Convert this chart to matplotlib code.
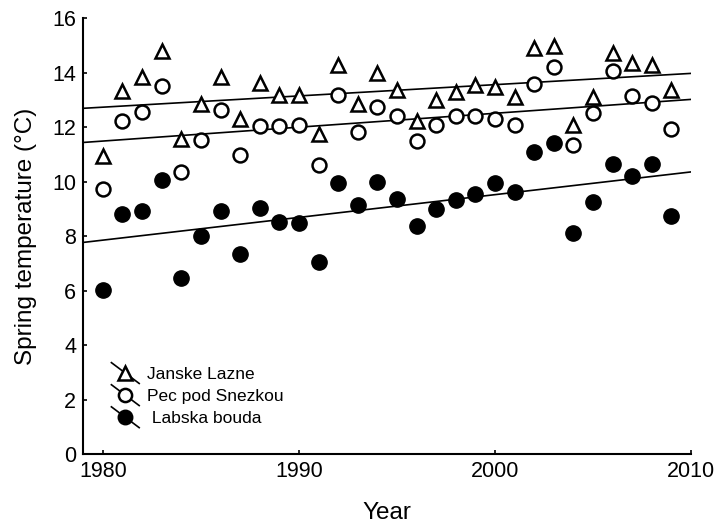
import numpy as np
import matplotlib
matplotlib.use("Agg")
import matplotlib.pyplot as plt
from matplotlib.lines import Line2D
from matplotlib.legend_handler import HandlerBase

years = list(range(1980, 2010))
janske_lazne = [10.93, 13.32, 13.85, 14.79, 11.57, 12.87, 13.85, 12.30, 13.62, 13.17,
                13.17, 11.75, 14.30, 12.87, 14.00, 13.36, 12.22, 12.99, 13.28, 13.54,
                13.48, 13.11, 14.91, 14.97, 12.07, 13.11, 14.73, 14.36, 14.30, 13.38]
pec_pod_snezkou = [9.75, 12.25, 12.55, 13.53, 10.36, 11.54, 12.65, 10.99, 12.03, 12.03,
                   12.07, 10.60, 13.17, 11.83, 12.73, 12.40, 11.48, 12.10, 12.40, 12.40,
                   12.32, 12.10, 13.60, 14.21, 11.36, 12.52, 14.08, 13.16, 12.89, 11.94]
labska_bouda = [6.03, 8.81, 8.91, 10.05, 6.46, 8.01, 8.91, 7.34, 9.03, 8.52,
                8.48, 7.05, 9.97, 9.13, 10.01, 9.38, 8.36, 9.00, 9.34, 9.55,
                9.97, 9.62, 11.08, 11.42, 8.11, 9.25, 10.65, 10.20, 10.65, 8.75]
series_names = ["Janske Lazne", "Pec pod Snezkou", " Labska bouda"]
x_ticks = [1980, 1990, 2000, 2010]
y_ticks = list(range(0, 17, 2))

plt.rcParams['font.family'] = ['Liberation Sans', 'DejaVu Sans']

fig = plt.figure(figsize=(7.21, 5.25), dpi=100)
ax = fig.add_axes([0.1155, 0.135, 0.843, 0.83])

x = np.array(years, dtype=float)
styles = [
    dict(marker='^', mfc='white', mec='black', ms=10, mew=1.8),
    dict(marker='o', mfc='white', mec='black', ms=10, mew=1.8),
    dict(marker='o', mfc='black', mec='black', ms=11, mew=1.0),
]
data = [janske_lazne, pec_pod_snezkou, labska_bouda]
xfit = np.array([1979.0, 2010.0])
handles = []
for vals, st, name in zip(data, styles, series_names):
    v = np.array(vals)
    k, b = np.polyfit(x, v, 1)
    ax.plot(xfit, k * xfit + b, color='black', lw=1.2, zorder=2)
    h, = ax.plot(x, v, ls='none', zorder=3, **st)
    handles.append(h)


class DiagHandler(HandlerBase):
    def create_artists(self, legend, orig_handle, xdescent, ydescent,
                       width, height, fontsize, trans):
        cx = width / 2 - xdescent
        cy = height / 2 - ydescent
        dx = 10.0
        dy = 7.5
        ln = Line2D([cx - dx, cx + dx], [cy + dy, cy - dy], color='black', lw=1.2,
                    transform=trans)
        mk = Line2D([cx], [cy], ls='none', marker=orig_handle.get_marker(),
                    mfc=orig_handle.get_markerfacecolor(), mec='black',
                    ms=orig_handle.get_markersize() * 0.95,
                    mew=orig_handle.get_markeredgewidth(), transform=trans)
        return [ln, mk]


leg = ax.legend(handles, series_names, handler_map={Line2D: DiagHandler()},
                loc='upper left', bbox_to_anchor=(0.052, 0.2), frameon=False,
                fontsize=12.5, handlelength=1.2, handletextpad=0.65, labelspacing=0.4,
                borderpad=0.0, borderaxespad=0.0)

ax.set_xlim(1979, 2010)
ax.set_ylim(0, 16)
ax.set_xticks(x_ticks)
ax.set_yticks(y_ticks)
ax.tick_params(direction='in', length=3, width=1.2, labelsize=15.5, pad=5)
for s in ['top', 'right']:
    ax.spines[s].set_visible(False)
for s in ['left', 'bottom']:
    ax.spines[s].set_linewidth(1.5)
ax.set_xlabel('Year', fontsize=17.5, labelpad=14)
ax.set_ylabel('Spring temperature (°C)', fontsize=17.5, labelpad=11)

fig.savefig('out.png', dpi=100)
